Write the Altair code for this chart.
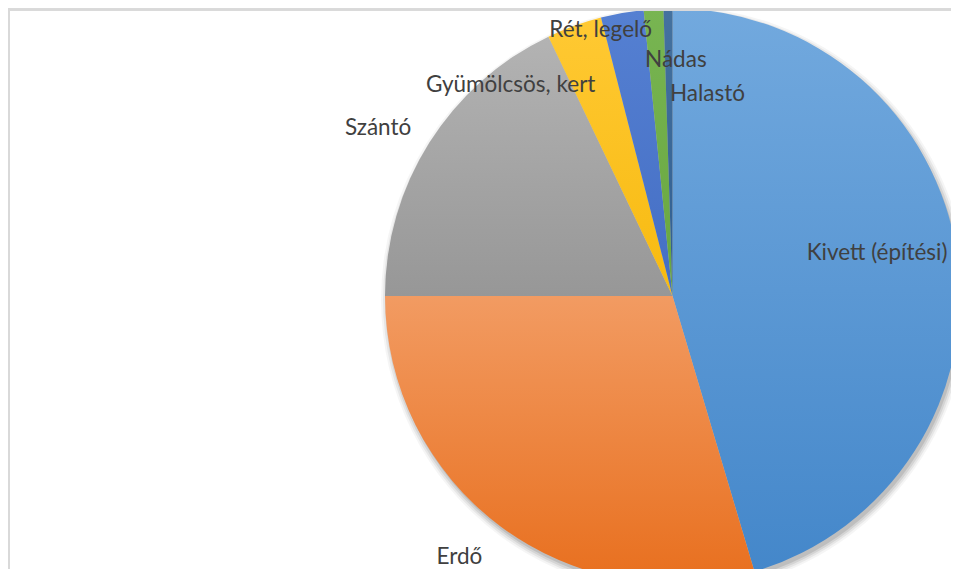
import math
import altair as alt
import pandas as pd

# ---- data (percent share) ----
categories = ["Kivett (építési)", "Erdő", "Szántó", "Gyümölcsös, kert",
              "Rét, legelő", "Nádas", "Halastó"]
values = [45.4, 29.6, 17.9, 3.1, 2.4, 1.1, 0.5]

# ---- styling / layout constants ----
top_colors = ["#72A9DE", "#F29B62", "#B3B3B3", "#FFC933", "#5580D2", "#78B552", "#45729F"]
bottom_colors = ["#4487CA", "#E86F1E", "#979797", "#F7BA10", "#446EC4", "#68A63F", "#2F5D90"]
# label placement: angular nudge (deg) from slice middle, and distance from centre (px)
label_nudge = [-3.5, 2.5, -2.5, -17.5, -5.0, 4.6, 10.7]
label_radius = [209, 337, 339, 266, 276, 236, 205]

W, H = 943, 561
CX, CY, R = 664.5, 288, 287.5
FONT = "Lato"

df = pd.DataFrame({
    "cat": categories,
    "value": values,
    "idx": list(range(len(categories))),
    "nudge": label_nudge,
    "lr": label_radius,
})

base = alt.Chart(df).transform_joinaggregate(
    total="sum(value)"
).transform_window(
    cum="sum(value)", sort=[alt.SortField("idx", order="ascending")], frame=[None, 0]
).transform_calculate(
    a0="(datum.cum - datum.value) / datum.total * 2 * PI",
    a1="datum.cum / datum.total * 2 * PI",
).transform_calculate(
    amid="(datum.a0 + datum.a1) / 2 + datum.nudge * PI / 180",
)

layers = []

# soft shadow under the pie
for k, op in [(6, 0.04), (4, 0.06), (2, 0.08), (0, 0.10)]:
    layers.append(
        base.mark_arc(color="#000000", opacity=op).encode(
            theta=alt.Theta("a0:Q", scale=None, stack=None),
            theta2="a1:Q",
            x=alt.value(CX + 2),
            y=alt.value(CY + 4),
            radius=alt.value(R + k),
        )
    )

# slices, each with its own vertical gradient
for i, c in enumerate(categories):
    grad = alt.Gradient(
        gradient="linear",
        stops=[alt.GradientStop(color=top_colors[i], offset=0),
               alt.GradientStop(color=bottom_colors[i], offset=1)],
        x1=0, x2=0, y1=0, y2=1,
    )
    layers.append(
        base.transform_filter(alt.datum.cat == c).mark_arc(fill=grad, stroke=None).encode(
            theta=alt.Theta("a0:Q", scale=None, stack=None),
            theta2="a1:Q",
            x=alt.value(CX),
            y=alt.value(CY),
            radius=alt.value(R),
        )
    )

labels = base.mark_text(
    font=FONT, fontSize=22.5, color="#404040", align="center", baseline="middle"
).encode(
    theta=alt.Theta("amid:Q", scale=None, stack=None),
    radius=alt.Radius("lr:Q", scale=None),
    x=alt.value(CX),
    y=alt.value(CY),
    text="cat:N",
)
layers.append(labels)

# chart frame (left and top edges visible)
frame_left = alt.Chart(df).mark_rule(color="#D9D9D9", strokeWidth=2).encode(
    x=alt.value(1), y=alt.value(0), y2=alt.value(H)
)
frame_top = alt.Chart(df).mark_rule(color="#D9D9D9", strokeWidth=2).encode(
    x=alt.value(0), x2=alt.value(W), y=alt.value(1.5)
)
layers += [frame_left, frame_top]

chart = alt.layer(*layers).properties(
    width=W, height=H,
    autosize=alt.AutoSizeParams(type="none"),
    padding=0,
).configure_view(stroke=None).configure(background="white")

chart.save("out.html", embed_options={"renderer": "svg", "actions": False})
